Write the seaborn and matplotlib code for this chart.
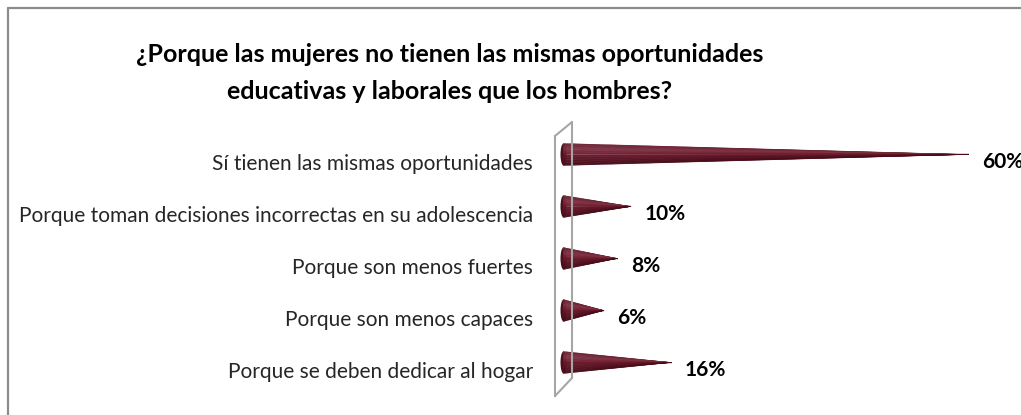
import numpy as np
import seaborn as sns
import matplotlib.pyplot as plt
from matplotlib.lines import Line2D
from matplotlib.patches import Polygon, Ellipse
from matplotlib.transforms import ScaledTranslation
from matplotlib.colors import LinearSegmentedColormap

# data
categories = [
    "Sí tienen las mismas oportunidades",
    "Porque toman decisiones incorrectas en su adolescencia",
    "Porque son menos fuertes",
    "Porque son menos capaces",
    "Porque se deben dedicar al hogar",
]
values = [60, 10, 8, 6, 16]
title = "¿Porque las mujeres no tienen las mismas oportunidades\neducativas y laborales que los hombres?"

sns.set_style("white")
plt.rcParams['font.family'] = ['Lato', 'DejaVu Sans']

W, H = 1021, 415
fig = plt.figure(figsize=(W / 100, H / 100), dpi=100)

def fx(x):
    return x / W

def fy(y):
    # y measured from the top of the picture
    return 1 - y / H

# plot area in pixels
ax_left, ax_top, ax_bottom = 555, 136, 396
ax = fig.add_axes([fx(ax_left), fy(ax_bottom), fx(W - ax_left), (ax_bottom - ax_top) / H])

px_per_unit = 6.75
sns.barplot(x=values, y=categories, orient='h', ax=ax, color='#5c1a28')
ax.set_xlim(0, (W - ax_left) / px_per_unit)
ax.set_ylim(4.5, -0.5)

# cone shading (top -> bottom)
cone_cmap = LinearSegmentedColormap.from_list(
    "cone", [(0.0, (0.40, 0.12, 0.18)), (0.25, (0.50, 0.20, 0.27)),
             (0.5, (0.42, 0.10, 0.17)), (1.0, (0.27, 0.04, 0.09))])
depth = ScaledTranslation(8.5 / 100, 7.5 / 100, fig.dpi_scale_trans)
cone_tr = ax.transData + depth
half = 11 / 52.0  # half height of cone base in category units

for p, val in zip(list(ax.patches), values):
    yc = p.get_y() + p.get_height() / 2
    v = p.get_width()
    p.set_visible(False)
    ax.add_patch(Ellipse((0, yc), 6 / px_per_unit, 2 * half,
                         facecolor='#4a111d', edgecolor='none', transform=cone_tr))
    n = 30
    for i in range(n):
        t1, t2 = i / n, (i + 1) / n
        c = cone_cmap((t1 + t2) / 2)
        ax.add_patch(Polygon([(0, yc - half + 2 * half * t1), (0, yc - half + 2 * half * t2), (v, yc)],
                             closed=True, facecolor=c, edgecolor=c, lw=0.3, transform=cone_tr))
    ax.annotate(f"{val}%", xy=(v, yc), xytext=(22, 0), textcoords='offset pixels',
                ha='left', va='center', fontsize=15, fontweight='bold', color='black',
                annotation_clip=False)

# axis styling
grey = '#a6a6a6'
for s in ['top', 'right', 'bottom']:
    ax.spines[s].set_visible(False)
ax.spines['left'].set_color(grey)
ax.spines['left'].set_linewidth(1.5)
ax.set_xticks([])
ax.set_yticks(range(len(categories)))
ax.set_yticklabels(categories, fontsize=15, color='#262626')
ax.set_yticks(np.arange(-0.5, len(categories), 1), minor=True)
ax.tick_params(axis='y', which='major', length=0, pad=16)
ax.tick_params(axis='y', which='minor', length=14, width=1.5, direction='inout', color=grey)
ax.set_xlabel("")
ax.set_ylabel("")

# back wall of the 3D axis
dx, dy = 17, 14
fig.add_artist(Line2D([fx(ax_left + dx)] * 2, [fy(ax_top - dy), fy(ax_bottom - dy - 4)],
                      color=grey, lw=1.5, transform=fig.transFigure))
fig.add_artist(Line2D([fx(ax_left), fx(ax_left + dx)], [fy(ax_bottom), fy(ax_bottom - dy - 4)],
                      color=grey, lw=1.5, transform=fig.transFigure))
fig.add_artist(Line2D([fx(ax_left), fx(ax_left + dx)], [fy(ax_top), fy(ax_top - dy)],
                      color=grey, lw=1.5, transform=fig.transFigure))

# title
fig.text(fx(450), fy(73), title, ha='center', va='center', fontsize=18,
         fontweight='bold', linespacing=1.75, color='black')

# outer chart frame
frame = '#8c8c8c'
fig.add_artist(Line2D([fx(8), fx(8)], [fy(8), 0], color=frame, lw=1.6, transform=fig.transFigure))
fig.add_artist(Line2D([fx(8), 1], [fy(8), fy(8)], color=frame, lw=1.6, transform=fig.transFigure))

fig.savefig("out.png", dpi=100, facecolor='white')
